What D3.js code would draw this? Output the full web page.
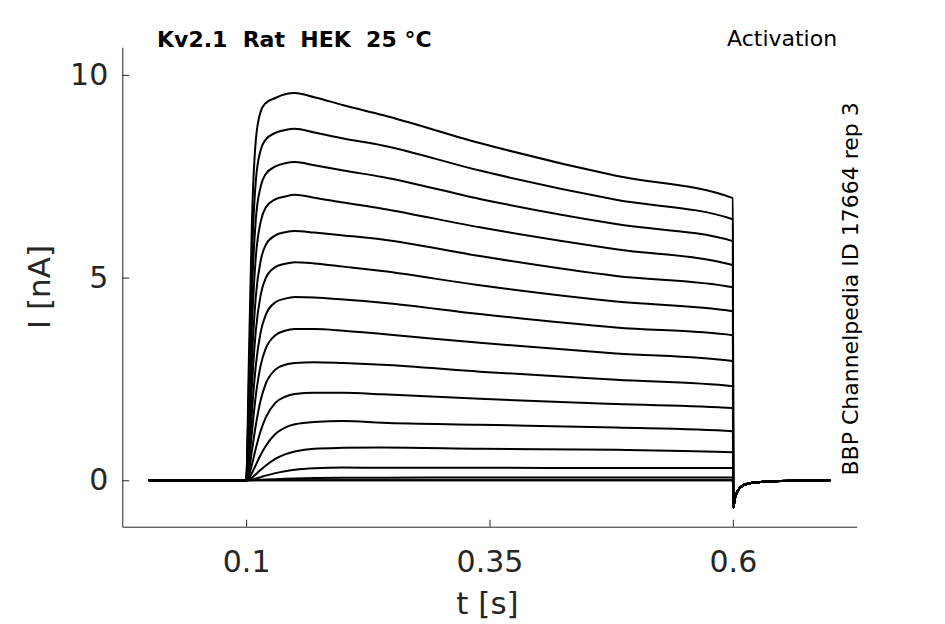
<!DOCTYPE html>
<html>
<head>
<meta charset="utf-8">
<script src="https://cdn.jsdelivr.net/npm/d3@7"></script>
<style>
  html, body { margin: 0; padding: 0; background: #fff; }
  svg text { font-family: "DejaVu Sans", sans-serif; }
</style>
</head>
<body>
<div id="chart"></div>
<script>
// sample times of the step (s), shared by every sweep
const stepTimes = [0, 0.1, 0.103, 0.106, 0.11, 0.115, 0.12, 0.13, 0.14, 0.15, 0.17, 0.2, 0.24, 0.34, 0.48, 0.6];

// current (nA) of each sweep at stepTimes
const sweeps = [
    [0, 0, 3.17, 6.42, 8.40, 9.10, 9.30, 9.43, 9.52, 9.55, 9.45, 9.25, 9.01, 8.32, 7.51, 6.96],
    [0, 0, 2.58, 5.47, 7.40, 8.15, 8.40, 8.57, 8.64, 8.67, 8.58, 8.43, 8.26, 7.64, 6.92, 6.44],
    [0, 0, 2.11, 4.64, 6.45, 7.25, 7.55, 7.74, 7.82, 7.85, 7.77, 7.64, 7.48, 6.94, 6.32, 5.90],
    [0, 0, 1.67, 3.82, 5.52, 6.38, 6.72, 6.93, 7.00, 7.04, 6.97, 6.85, 6.70, 6.24, 5.70, 5.31],
    [0, 0, 1.25, 3.00, 4.55, 5.42, 5.80, 6.04, 6.12, 6.15, 6.11, 6.04, 5.94, 5.53, 5.04, 4.76],
    [0, 0, 0.93, 2.33, 3.70, 4.58, 4.98, 5.26, 5.34, 5.38, 5.35, 5.27, 5.16, 4.81, 4.41, 4.17],
    [0, 0, 0.65, 1.70, 2.84, 3.66, 4.07, 4.39, 4.48, 4.52, 4.51, 4.46, 4.38, 4.10, 3.77, 3.58],
    [0, 0, 0.43, 1.19, 2.10, 2.84, 3.24, 3.58, 3.69, 3.73, 3.73, 3.69, 3.61, 3.39, 3.13, 2.94],
    [0, 0, 0.25, 0.73, 1.37, 1.98, 2.37, 2.73, 2.85, 2.89, 2.91, 2.89, 2.85, 2.68, 2.48, 2.32],
    [0, 0, 0.13, 0.39, 0.79, 1.22, 1.54, 1.91, 2.06, 2.13, 2.16, 2.16, 2.12, 2.01, 1.88, 1.78],
    [0, 0, 0.05, 0.18, 0.38, 0.63, 0.84, 1.14, 1.30, 1.38, 1.44, 1.46, 1.42, 1.37, 1.30, 1.21],
    [0, 0, 0.02, 0.065, 0.15, 0.26, 0.36, 0.53, 0.64, 0.71, 0.78, 0.80, 0.81, 0.78, 0.75, 0.69],
    [0, 0, 0.005, 0.018, 0.043, 0.078, 0.114, 0.177, 0.225, 0.257, 0.294, 0.313, 0.31, 0.31, 0.30, 0.30],
    [0, 0, 0.001, 0.002, 0.006, 0.011, 0.017, 0.028, 0.037, 0.044, 0.054, 0.062, 0.065, 0.066, 0.066, 0.07],
    [0, 0, 0, 0, 0, 0, 0, 0, 0, 0, 0, 0, 0, 0, 0, 0],
    [0, 0, 0, 0, 0, 0, 0, 0, 0, 0, 0, 0, 0, 0, 0, 0]
];

// tail after the step ends (same for all sweeps)
const tailTimes = [0.6004, 0.602, 0.605, 0.61, 0.62, 0.64, 0.67, 0.7];
const tailCurrent = [-0.67, -0.45, -0.26, -0.13, -0.06, -0.025, -0.01, 0];

const xTicks = [0.1, 0.35, 0.6];
const yTicks = [0, 5, 10];

const width = 945, height = 624;
const plot = { left: 122.3, right: 856.7, top: 47.3, bottom: 526.7 };
const axisColor = "#262626";

const svg = d3.select("#chart")
    .append("svg")
    .attr("width", width)
    .attr("height", height);

const x = d3.scaleLinear().domain([-0.0272, 0.7272]).range([plot.left, plot.right]);
const y = d3.scaleLinear().domain([-1.145, 10.68]).range([plot.bottom, plot.top]);

const line = d3.line()
    .x(d => x(d[0]))
    .y(d => y(d[1]))
    .curve(d3.curveMonotoneX);

// sweeps
svg.append("g")
    .selectAll("path")
    .data(sweeps)
    .enter()
    .append("path")
    .attr("d", s => {
        const pts = stepTimes.map((t, i) => [t, s[i]]);
        tailTimes.forEach((t, i) => pts.push([t, tailCurrent[i]]));
        return line(pts);
    })
    .attr("fill", "none")
    .attr("stroke", "#000")
    .attr("stroke-width", 2)
    .attr("stroke-linejoin", "round");

// axes, ticks pointing inwards
const xAxis = svg.append("g")
    .attr("transform", `translate(0,${plot.bottom})`)
    .call(d3.axisBottom(x).tickValues(xTicks).tickFormat(d3.format("")).tickSizeInner(-7).tickSizeOuter(0).tickPadding(24));

const yAxis = svg.append("g")
    .attr("transform", `translate(${plot.left},0)`)
    .call(d3.axisLeft(y).tickValues(yTicks).tickFormat(d3.format("d")).tickSizeInner(-7).tickSizeOuter(0).tickPadding(14));

[xAxis, yAxis].forEach(a => {
    a.selectAll("path, line").attr("stroke", axisColor).attr("stroke-width", 1);
    a.selectAll("text")
        .attr("fill", axisColor)
        .style("font-family", "DejaVu Sans")
        .style("font-size", "30px");
});

// axis labels
svg.append("text")
    .attr("x", (plot.left + plot.right) / 2 - 2)
    .attr("y", 614)
    .attr("text-anchor", "middle")
    .attr("fill", axisColor)
    .style("font-size", "31px")
    .text("t [s]");

svg.append("text")
    .attr("transform", `translate(49.5,${(plot.top + plot.bottom) / 2}) rotate(-90)`)
    .attr("text-anchor", "middle")
    .attr("fill", axisColor)
    .style("font-size", "31px")
    .text("I [nA]");

// title and notes
svg.append("text")
    .attr("x", 157)
    .attr("y", 46.7)
    .style("font-size", "22px")
    .style("font-weight", "bold")
    .style("white-space", "pre")
    .text("Kv2.1  Rat  HEK  25 °C");

svg.append("text")
    .attr("x", 727)
    .attr("y", 46)
    .style("font-size", "22px")
    .text("Activation");

svg.append("text")
    .attr("transform", "translate(857.5,475.5) rotate(-90)")
    .style("font-size", "22px")
    .text("BBP Channelpedia ID 17664 rep 3");
</script>
</body>
</html>
